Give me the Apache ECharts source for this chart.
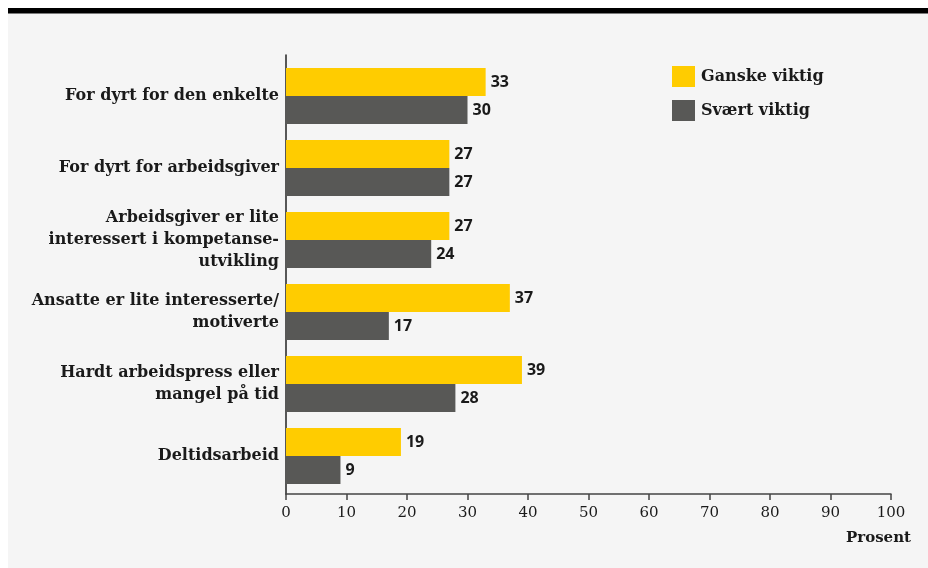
<!DOCTYPE html>
<html>
<head>
<meta charset="utf-8">
<script src="https://cdn.jsdelivr.net/npm/echarts@6/dist/echarts.min.js"></script>
<style>
  html, body { margin: 0; padding: 0; background: #ffffff; }
  #chart { width: 928px; height: 568px; }
</style>
</head>
<body>
<div id="chart"></div>
<script>
// Reasons for not taking part in training, share answering "important"
const categories = [
  'For dyrt for den enkelte',
  'For dyrt for arbeidsgiver',
  'Arbeidsgiver er lite\ninteressert i kompetanse-\nutvikling',
  'Ansatte er lite interesserte/\nmotiverte',
  'Hardt arbeidspress eller\nmangel på tid',
  'Deltidsarbeid'
];
const seriesNames = ['Ganske viktig', 'Svært viktig'];
const ganskeViktig = [33, 27, 27, 37, 39, 19];
const svaertViktig = [30, 27, 24, 17, 28, 9];
const axisTicks = [0, 10, 20, 30, 40, 50, 60, 70, 80, 90, 100];
const axisName = 'Prosent';

const colors = ['#ffcc00', '#585856'];
const serif = '"DejaVu Serif", serif';
const sans = '"Open Sans", sans-serif';
const ink = '#1a1a1a';

const chart = echarts.init(document.getElementById('chart'), null, { renderer: 'canvas' });

const valueLabel = {
  show: true,
  position: 'right',
  distance: 5,
  color: ink,
  fontFamily: sans,
  fontWeight: 'bold',
  fontSize: 16
};

chart.setOption({
  animation: false,
  backgroundColor: '#ffffff',
  graphic: [
    { type: 'rect', shape: { x: 8, y: 13, width: 920, height: 555 }, style: { fill: '#f5f5f5' }, silent: true, z: -10 },
    { type: 'rect', shape: { x: 8, y: 8, width: 920, height: 5.5 }, style: { fill: '#000000' }, silent: true, z: -9 }
  ],
  legend: {
    orient: 'vertical',
    left: 667,
    top: 61,
    itemWidth: 23,
    itemHeight: 21,
    itemGap: 13,
    icon: 'rect',
    textStyle: { color: ink, fontFamily: serif, fontWeight: 'bold', fontSize: 16, padding: [0, 0, 0, 1] },
    data: seriesNames
  },
  grid: [
    // bar area
    { left: 286, right: 37, top: 60, height: 432 },
    // axis frame
    { left: 286, right: 37, top: 55, bottom: 74 }
  ],
  xAxis: [
    { gridIndex: 0, type: 'value', min: 0, max: 100, show: false },
    {
      gridIndex: 1, type: 'value', min: 0, max: 100, interval: 10,
      axisLine: { show: true, lineStyle: { color: '#444444', width: 1.5 } },
      axisTick: { show: true, length: 6, lineStyle: { color: '#444444', width: 1.5 } },
      splitLine: { show: false },
      axisLabel: {
        margin: 12, color: ink, fontFamily: serif, fontSize: 15,
        formatter: v => axisTicks.includes(v) ? String(v) : ''
      },
      name: axisName,
      nameLocation: 'end',
      nameGap: 20,
      nameTextStyle: {
        color: ink, fontFamily: serif, fontWeight: 'bold', fontSize: 15,
        align: 'right', verticalAlign: 'top', padding: [37, 0, 0, 0]
      }
    }
  ],
  yAxis: [
    {
      gridIndex: 0, type: 'category', data: categories, inverse: true,
      axisLine: { show: false },
      axisTick: { show: false },
      axisLabel: {
        margin: 7, color: ink, fontFamily: serif, fontWeight: 'bold', fontSize: 16, lineHeight: 22, align: 'right'
      }
    },
    {
      gridIndex: 1, type: 'value', min: 0, max: 1,
      axisLine: { show: true, lineStyle: { color: '#222222', width: 1.5 } },
      axisTick: { show: false },
      axisLabel: { show: false },
      splitLine: { show: false }
    }
  ],
  series: [
    {
      name: seriesNames[0], type: 'bar', xAxisIndex: 0, yAxisIndex: 0,
      data: ganskeViktig, barWidth: 28, barGap: '0%',
      itemStyle: { color: colors[0] }, label: valueLabel
    },
    {
      name: seriesNames[1], type: 'bar', xAxisIndex: 0, yAxisIndex: 0,
      data: svaertViktig, barWidth: 28, barGap: '0%',
      itemStyle: { color: colors[1] }, label: valueLabel
    }
  ]
});
</script>
</body>
</html>
